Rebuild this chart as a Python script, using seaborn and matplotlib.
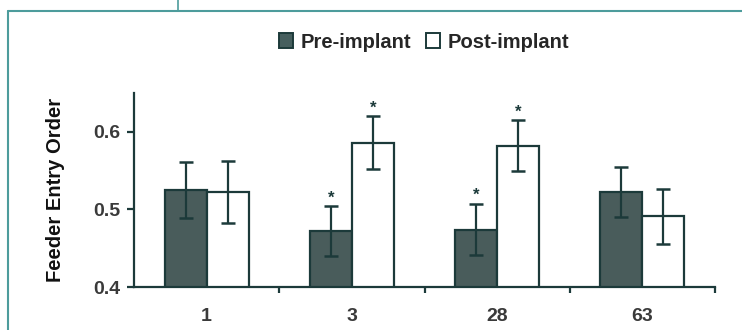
import matplotlib
matplotlib.use("Agg")
import matplotlib.pyplot as plt
from matplotlib.lines import Line2D
from matplotlib.patches import Patch
import seaborn as sns
import pandas as pd
import numpy as np

# ---- data ----
categories = ["1", "3", "28", "63"]
series = ["Pre-implant", "Post-implant"]
pre_values = [0.525, 0.472, 0.474, 0.522]
post_values = [0.522, 0.586, 0.582, 0.491]
pre_err = [0.036, 0.032, 0.033, 0.032]
post_err = [0.040, 0.034, 0.033, 0.035]
pre_sig = [False, True, True, False]
post_sig = [False, True, True, False]
y_ticks = [0.4, 0.5, 0.6]
y_label = "Feeder Entry Order"

sns.set_style("white")
plt.rcParams['font.family'] = ['Liberation Sans', 'DejaVu Sans']

dark_fill = "#465f5e"
edge = "#1c3a3a"
frame_col = "#4d9c9c"

df = pd.DataFrame({
    "day": categories * 2,
    "group": [series[0]] * 4 + [series[1]] * 4,
    "value": pre_values + post_values,
})

fig = plt.figure(figsize=(7.42, 3.30), dpi=100)
ax = fig.add_axes([134 / 742, 1 - 287 / 330, (715 - 134) / 742, (287 - 93) / 330])

sns.barplot(data=df, x="day", y="value", hue="group", order=categories,
            hue_order=series, palette=[dark_fill, "white"], width=0.58,
            edgecolor=edge, linewidth=1.6, errorbar=None, legend=False, ax=ax)

# error bars and significance markers from the bar patches
bars = [p for p in ax.patches]
errs = pre_err + post_err
sigs = pre_sig + post_sig
vals = pre_values + post_values
for p, e, s, v in zip(bars, errs, sigs, vals):
    cx = p.get_x() + p.get_width() / 2
    ax.errorbar(cx, v, yerr=e, fmt="none", ecolor=edge, elinewidth=1.6,
                capsize=5, capthick=1.8, zorder=5)
    if s:
        ax.text(cx, v + e + 0.001, "*", ha="center", va="bottom",
                fontsize=12, fontweight="bold", color=edge)

ax.set_ylim(0.4, 0.65)
ax.set_xlim(-0.5, 3.5)
ax.set_yticks(y_ticks)
ax.set_yticklabels([f"{t:.1f}" for t in y_ticks])
ax.set_xticks([0.5, 1.5, 2.5, 3.5])
ax.set_xticklabels([])
ax.set_xticks(range(len(categories)), minor=True)
ax.set_xticklabels(categories, minor=True)
ax.tick_params(axis="x", which="minor", length=0, pad=15, labelsize=14,
               labelcolor="#3a3a3a")
ax.tick_params(axis="x", which="major", direction="out", length=4, width=1.6,
               color=edge, bottom=True)
ax.tick_params(axis="y", direction="out", length=5, width=1.6, color=edge,
               left=True, labelsize=14, labelcolor="#3a3a3a", pad=5)
for lab in ax.get_yticklabels() + ax.get_xticklabels(minor=True):
    lab.set_fontweight("bold")

for side in ["top", "right"]:
    ax.spines[side].set_visible(False)
for side in ["left", "bottom"]:
    ax.spines[side].set_color(edge)
    ax.spines[side].set_linewidth(1.6)

ax.set_xlabel("")
ax.set_ylabel(y_label, fontsize=14.5, fontweight="bold", color="#111111", labelpad=20)

handles = [Patch(facecolor=dark_fill, edgecolor=edge, linewidth=1.4),
           Patch(facecolor="white", edgecolor=edge, linewidth=1.4)]
fig.legend(handles, series, loc="center", bbox_to_anchor=(424 / 742, 1 - 42 / 330),
           ncol=2, frameon=False, handlelength=0.7, handleheight=0.7,
           handletextpad=0.35, columnspacing=0.75, borderpad=0, borderaxespad=0,
           prop={"weight": "bold", "size": 14.5})

# outer frame lines
fig.add_artist(Line2D([8 / 742, 1.0], [1 - 11 / 330, 1 - 11 / 330],
                      transform=fig.transFigure, color=frame_col, linewidth=1.5))
fig.add_artist(Line2D([8 / 742, 8 / 742], [0, 1 - 11 / 330],
                      transform=fig.transFigure, color=frame_col, linewidth=1.5))
fig.add_artist(Line2D([178 / 742, 178 / 742], [1 - 11 / 330, 1.0],
                      transform=fig.transFigure, color=frame_col, linewidth=1.2))

fig.savefig("out.png", dpi=100)
